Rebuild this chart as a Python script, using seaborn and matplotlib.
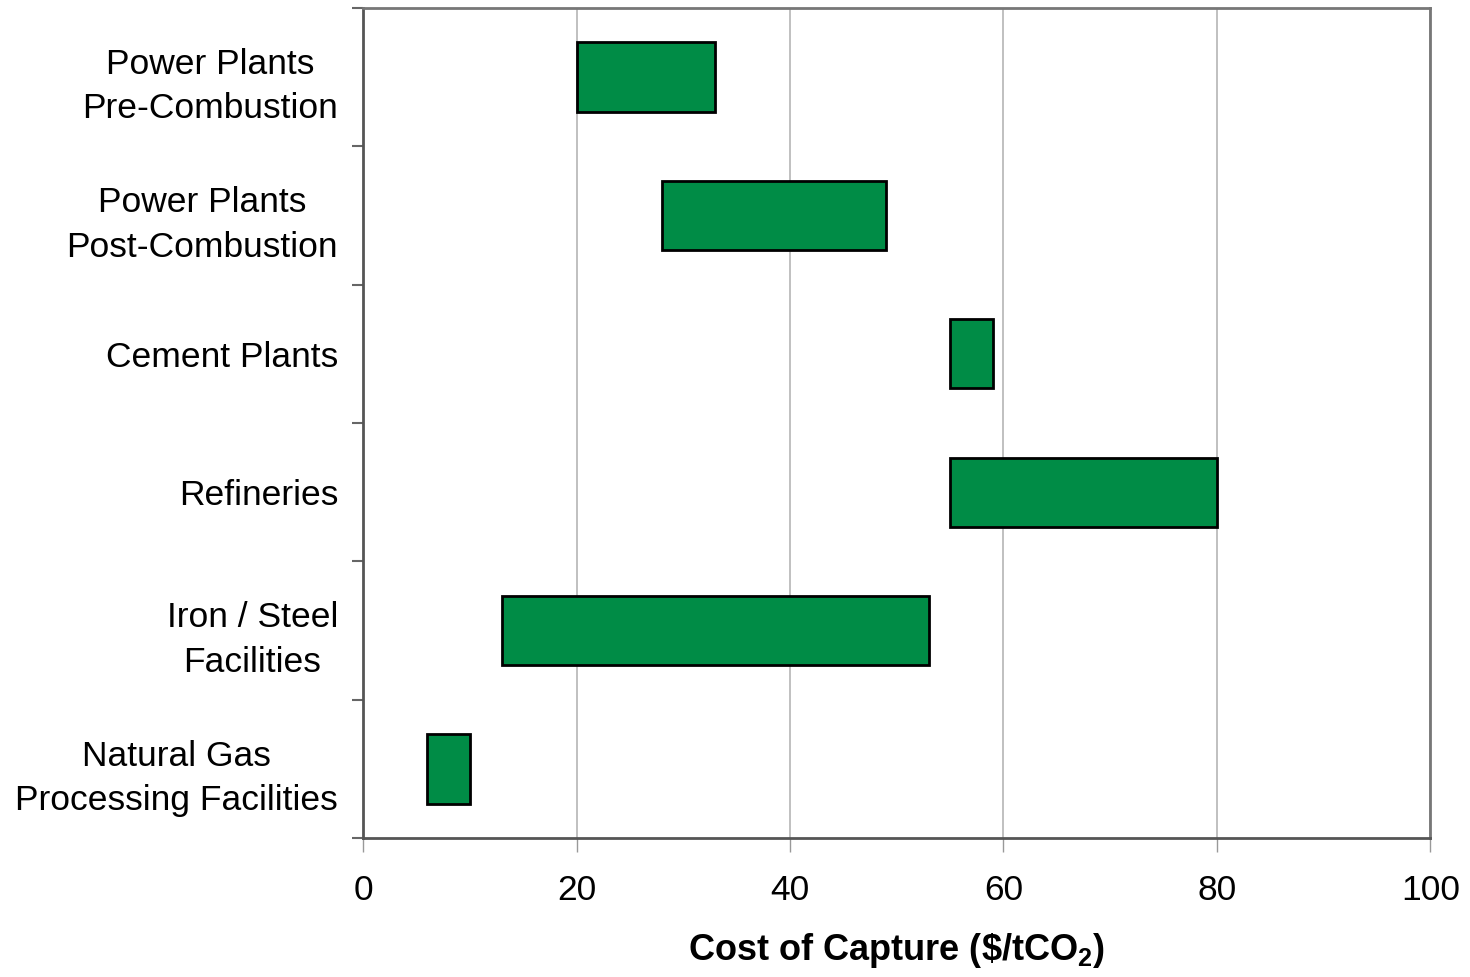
import numpy as np
import pandas as pd
import seaborn as sns
import matplotlib.pyplot as plt

# Data: cost of capture ranges ($/tCO2)
sources = ['Power Plants\nPre-Combustion', 'Power Plants\nPost-Combustion', 'Cement Plants',
           'Refineries', 'Iron / Steel\nFacilities', 'Natural Gas\nProcessing Facilities']
cost_low = [20, 28, 55, 55, 13, 6]
cost_high = [33, 49, 59, 80, 53, 10]

df = pd.DataFrame({'source': sources, 'low': cost_low, 'high': cost_high})
df['span'] = df['high'] - df['low']

sns.set_style('white')
plt.rcParams['font.family'] = ['Liberation Sans', 'DejaVu Sans']
plt.rcParams['text.color'] = 'black'
plt.rcParams['axes.labelcolor'] = 'black'
plt.rcParams['xtick.labelcolor'] = 'black'
plt.rcParams['ytick.labelcolor'] = 'black'
plt.rcParams['mathtext.fontset'] = 'custom'
plt.rcParams['mathtext.rm'] = 'Liberation Sans'
plt.rcParams['mathtext.bf'] = 'Liberation Sans:bold'

fig = plt.figure(figsize=(14.7, 9.77), dpi=100)
ax = fig.add_axes([0.247, 0.142, 0.726, 0.850])

sns.barplot(data=df, x='span', y='source', left=df['low'], orient='h', width=0.5,
            color='#008C46', saturation=1, edgecolor='black', linewidth=2, ax=ax, zorder=3)

ax.set_xlim(0, 100)
ax.set_ylim(5.5, -0.5)
ax.set_xticks([0, 20, 40, 60, 80, 100])
ax.xaxis.grid(True, color='#b5b5b5', linewidth=1.2, zorder=0)
ax.set_axisbelow(True)

# boundaries between categories get small ticks
ax.set_yticks(np.arange(-0.5, 6, 1), minor=True)
ax.tick_params(axis='y', which='major', length=0, pad=18, labelsize=25.5)
ax.tick_params(axis='y', which='minor', length=8, width=1.5, color='#666666', direction='out', left=True)
ax.tick_params(axis='x', length=10, width=1, color='#999999', direction='out', bottom=True,
               pad=16, labelsize=25.5)
for lab in ax.get_yticklabels():
    lab.set_multialignment('center')
    lab.set_linespacing(1.45)

for s in ax.spines.values():
    s.set_color('#555555')
    s.set_linewidth(2)
ax.spines['top'].set_color('#777777')
ax.spines['right'].set_color('#777777')

ax.set_ylabel('')
ax.set_xlabel(r'Cost of Capture (\$/tCO$_\mathbf{2}$)', fontsize=26, fontweight='bold', labelpad=17)

fig.savefig('out.png', dpi=100)
